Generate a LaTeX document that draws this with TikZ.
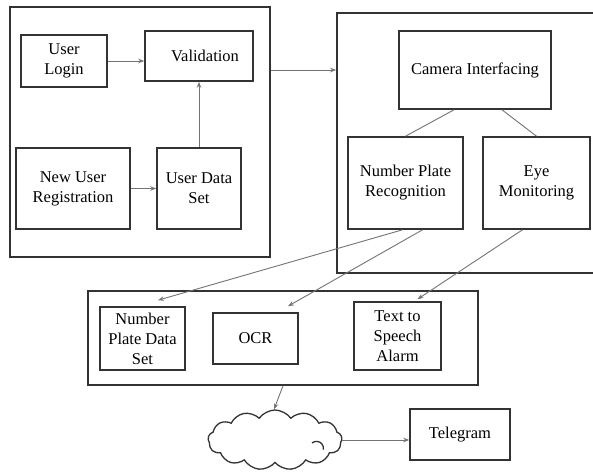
\documentclass[tikz,border=0pt]{standalone}
\usepackage{fontspec}
\setmainfont{Liberation Serif}
\usetikzlibrary{shapes.symbols,arrows.meta}
\tikzset{
  blk/.style={draw=black!80, line width=1.6pt, rectangle, align=center, inner sep=0pt, font=\fontsize{16.5}{20}\selectfont},
  grp/.style={draw=black!80, line width=1.6pt, rectangle, inner sep=0pt},
  link/.style={draw=black!55, line width=0.9pt, -{Stealth[length=6pt,width=4.5pt]}},
  plain/.style={draw=black!55, line width=0.9pt}
}
\begin{document}
\begin{tikzpicture}[x=1pt,y=-1pt]
      \useasboundingbox (0,0) rectangle (593,471);
      \node[grp, minimum width=260pt, minimum height=250pt] (G1) at (140,132) {};
      \node[grp, minimum width=258pt, minimum height=260pt] (G2) at (466,143) {};
      \node[grp, minimum width=390pt, minimum height=94pt] (G3) at (283,338) {};
      \node[blk, minimum width=86pt, minimum height=52pt] (Login) at (64,61) {User\\Login};
      \node[blk, minimum width=108pt, minimum height=50pt] (Valid) at (199,56) {\hspace*{12pt}Validation};
      \node[blk, minimum width=114pt, minimum height=81pt] (NewUser) at (73,188.5) {New User\\Registration};
      \node[blk, minimum width=84pt, minimum height=81pt] (UDS) at (199,188.5) {User Data\\Set};
      \node[blk, minimum width=152pt, minimum height=78pt] (Camera) at (475,70) {Camera Interfacing};
      \node[blk, minimum width=115pt, minimum height=92pt] (NPR) at (405.5,183) {Number Plate\\Recognition};
      \node[blk, minimum width=107pt, minimum height=92pt] (Eye) at (536.5,183) {Eye\\Monitoring};
      \node[blk, minimum width=85pt, minimum height=63pt] (NPDS) at (142.5,338.5) {Number\\Plate Data\\Set};
      \node[blk, minimum width=85pt, minimum height=51pt] (OCR) at (255.5,338.5) {OCR};
      \node[blk, minimum width=87pt, minimum height=68pt] (TTS) at (397.5,336) {Text to\\Speech\\Alarm};
      \node[cloud, draw=black!80, line width=1.3pt, cloud puffs=13, cloud puff arc=110, aspect=2.2,
            minimum width=134pt, minimum height=60pt, inner sep=0pt] (Cloud) at (275,440) {};
      \draw[black!80, line width=1.3pt] ([xshift=37pt,yshift=-3pt]Cloud.center) arc[start angle=130, end angle=-10, radius=7pt];
      \node[blk, minimum width=100pt, minimum height=51pt] (Tele) at (460,434.5) {Telegram};
      \draw[link] (Login.east) -- (Valid.west |- Login.east);
      \draw[link] (NewUser.east) -- (UDS.west |- NewUser.east);
      \draw[link] (UDS.north) -- (Valid.south);
      \draw[link] (G1.east |- Camera.west) -- (G2.west |- Camera.west);
      \draw[plain] ([xshift=-21pt]Camera.south) -- (NPR.north);
      \draw[plain] ([xshift=27pt]Camera.south) -- (Eye.north);
      \draw[link] ([xshift=-3pt]NPR.south) -- ([xshift=15.5pt,yshift=6pt]NPDS.north);
      \draw[link] ([xshift=17pt]NPR.south) -- ([xshift=32.5pt,yshift=6pt]OCR.north);
      \draw[link] ([xshift=-14pt]Eye.south) -- ([xshift=20pt,yshift=2pt]TTS.north);
      \draw[link] (G3.south) -- ([xshift=-1pt]Cloud.north);
      \draw[link] (Cloud.east) -- (Tele.west |- Cloud.east);
    \end{tikzpicture}
\end{document}
